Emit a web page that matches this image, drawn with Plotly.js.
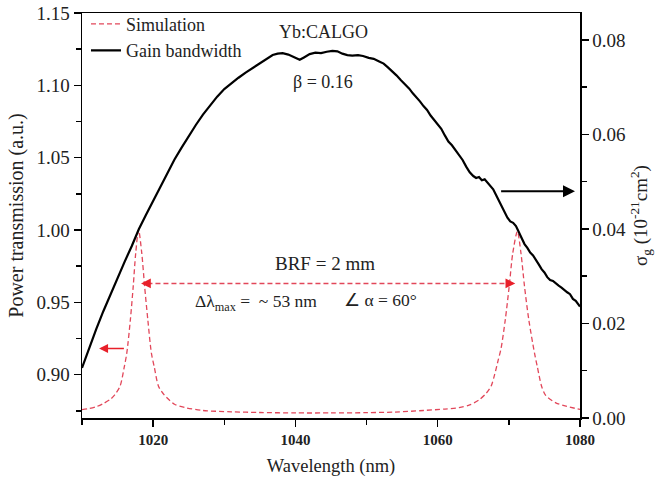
<!DOCTYPE html>
<html><head><meta charset="utf-8">
<script src="https://cdn.plot.ly/plotly-3.0.1.min.js"></script>
<style>html,body{margin:0;padding:0;background:#fff}#chart{width:655px;height:478px}</style>
</head><body><div id="chart"></div>
<script>
// Simulated BRF power transmission (left axis)
const simWavelength = [1010,1011,1012,1013,1014,1014.6,1015.35,1015.95,1016.3,1016.8,1017.2,1017.55,1017.95,1018.4,1018.8,1019.25,1019.75,1020.15,1020.75,1021.55,1023,1024.5,1027,1031,1035,1040,1045,1050,1054,1058,1061,1063,1064.5,1065.8,1066.8,1067.5,1068,1068.5,1068.9,1069.5,1070.05,1070.55,1071.2,1071.7,1072.2,1072.8,1073.6,1074,1074.6,1075.2,1076.6,1077.5,1080];
const simTransmission = [0.8758,0.8765,0.8778,0.8800,0.8830,0.8860,0.8920,0.9055,0.9150,0.9380,0.9610,0.9840,1.0000,0.9840,0.9610,0.9380,0.9150,0.9055,0.8920,0.8860,0.8795,0.8772,0.8752,0.8743,0.8738,0.8735,0.8735,0.8737,0.8741,0.8752,0.8762,0.8772,0.8790,0.8825,0.8870,0.8920,0.9000,0.9100,0.9180,0.9380,0.9610,0.9840,0.9990,0.9840,0.9610,0.9380,0.9150,0.9055,0.8920,0.8855,0.8805,0.8789,0.8759];

// Gain bandwidth cross-section (right axis)
const gainWavelength = [1010,1011,1012,1013,1014,1015,1016,1017,1018,1019,1020,1021,1022,1023,1024,1025,1026,1027,1028,1029,1030,1031,1032,1033,1034,1035,1036,1036.8,1037.5,1038.2,1039,1039.8,1040.6,1041.2,1042,1042.8,1043.6,1044.4,1045.2,1045.9,1046.6,1047.3,1048,1048.8,1049.5,1050.3,1051,1051.7,1052.4,1053,1053.6,1054.2,1054.8,1055.4,1056,1056.5,1057,1057.5,1058,1058.5,1059,1059.5,1060,1060.5,1061,1061.5,1062,1062.5,1063,1063.5,1064,1064.5,1065,1065.4,1065.8,1066.2,1066.6,1067,1067.4,1067.8,1068.2,1068.6,1069,1069.4,1069.8,1070.2,1070.6,1071,1071.4,1071.8,1072.2,1072.6,1073,1073.4,1073.8,1074.2,1074.6,1075,1075.4,1075.8,1076.2,1076.6,1077,1077.4,1077.8,1078.2,1078.6,1079,1079.4,1079.8,1080];
const gainCrossSection = [0.0106,0.0148,0.0188,0.0226,0.0262,0.0297,0.0331,0.0364,0.0400,0.0430,0.0459,0.0490,0.0520,0.0547,0.0572,0.0597,0.0620,0.0642,0.0662,0.0680,0.0696,0.0709,0.0720,0.0731,0.0741,0.0750,0.0760,0.0768,0.0771,0.0772,0.0769,0.0763,0.0758,0.0763,0.0770,0.0773,0.0772,0.0775,0.0777,0.0776,0.0771,0.0768,0.0767,0.0768,0.0766,0.0762,0.0760,0.0755,0.0750,0.0742,0.0734,0.0725,0.0715,0.0706,0.0697,0.0687,0.0679,0.0670,0.0660,0.0652,0.0640,0.0631,0.0620,0.0612,0.0598,0.0585,0.0577,0.0566,0.0555,0.0546,0.0532,0.0520,0.0512,0.0508,0.0510,0.0503,0.0505,0.0498,0.0492,0.0484,0.0472,0.0460,0.0446,0.0436,0.0424,0.0416,0.0413,0.0406,0.0393,0.0378,0.0368,0.0360,0.0350,0.0344,0.0333,0.0325,0.0315,0.0308,0.0298,0.0292,0.0290,0.0284,0.0280,0.0276,0.0270,0.0266,0.0262,0.0252,0.0248,0.0240,0.0236];

const xTickValues = [1020,1040,1060,1080];
const leftTickValues = [0.90,0.95,1.00,1.05,1.10,1.15];
const rightTickValues = [0.00,0.02,0.04,0.06,0.08];
const seriesNames = ['Simulation','Gain bandwidth'];

const FONT = 'Liberation Serif, Times New Roman, serif';
const RED = '#e2475a';
const ARROW_RED = '#e8202a';
const TXT = '#222';

const traces = [
  {x: simWavelength, y: simTransmission, name: seriesNames[0], type:'scatter', mode:'lines',
   line:{color:RED, width:1.3, dash:'5px,3px', shape:'spline', smoothing:0.8}, yaxis:'y'},
  {x: gainWavelength, y: gainCrossSection, name: seriesNames[1], type:'scatter', mode:'lines',
   line:{color:'#000', width:2.2}, yaxis:'y2'}
];

const axisCommon = {showline:true, linecolor:'#000', linewidth:1.5, ticks:'outside', ticklen:7, tickwidth:1.5,
  tickcolor:'#000', showgrid:false, zeroline:false};

const layout = {
  width:655, height:478,
  margin:{l:82, r:75, t:13, b:60, autoexpand:false},
  paper_bgcolor:'#fff', plot_bgcolor:'#fff',
  font:{family:FONT, color:TXT, size:18},
  showlegend:true,
  legend:{x:0.008, y:1.018, xanchor:'left', yanchor:'top', bgcolor:'rgba(0,0,0,0)', font:{family:FONT, size:18, color:TXT}, itemwidth:30, tracegroupgap:0},
  xaxis: Object.assign({}, axisCommon, {range:[1010,1080], tickvals:xTickValues, mirror:true,
    tickfont:{family:FONT, size:15, color:TXT, weight:'bold'},
    minor:{dtick:10, tick0:1000, ticks:'outside', ticklen:5, tickwidth:1.5, tickcolor:'#000'},
    title:{text:'Wavelength (nm)', font:{family:FONT, size:18.5, color:TXT}, standoff:12}}),
  yaxis: Object.assign({}, axisCommon, {range:[0.87,1.15], tickvals:leftTickValues, tickformat:'.2f',
    tickfont:{family:FONT, size:19, color:TXT},
    minor:{dtick:0.025, tick0:0.9, ticks:'outside', ticklen:5, tickwidth:1.5, tickcolor:'#000'},
    title:{text:'Power transmission (a.u.)', font:{family:FONT, size:20, color:TXT}, standoff:7}}),
  yaxis2: Object.assign({}, axisCommon, {range:[0,0.0857], overlaying:'y', side:'right', tickvals:rightTickValues, tickformat:'.2f',
    tickfont:{family:FONT, size:19, color:TXT},
    minor:{dtick:0.01, tick0:0, ticks:'outside', ticklen:5, tickwidth:1.5, tickcolor:'#000'},
    title:{text:'σ<sub>g</sub> (10<sup>-21</sup>cm<sup>2</sup>)', font:{family:FONT, size:19, color:TXT}, standoff:8}}),
  shapes:[
    {type:'line', xref:'x', yref:'y', x0:1019.2, x1:1070.0, y0:0.9630, y1:0.9630, line:{color:RED, width:1.3, dash:'5px,3px'}}
  ],
  annotations:[
    {text:'Yb:CALGO', xref:'x', yref:'y', x:1044.0, y:1.1366, showarrow:false, font:{family:FONT, size:18, color:TXT}},
    {text:'β = 0.16', xref:'x', yref:'y', x:1043.9, y:1.102, showarrow:false, font:{family:FONT, size:18, color:TXT}},
    {text:'BRF = 2 mm', xref:'x', yref:'y', x:1044.1, y:0.977, showarrow:false, font:{family:FONT, size:19, color:TXT}},
    {text:'Δλ<sub>max</sub> =  ~ 53 nm', xref:'x', yref:'y', x:1034.4, y:0.950, showarrow:false, font:{family:FONT, size:17.5, color:TXT}},
    {text:'∠ α = 60°', xref:'x', yref:'y', x:1052.0, y:0.9517, showarrow:false, font:{family:FONT, size:17.5, color:TXT}},
    // double arrow heads of the dashed BRF arrow
    {text:'', xref:'x', yref:'y', axref:'x', ayref:'y', x:1018.3, y:0.9630, ax:1019.6, ay:0.9630, showarrow:true, arrowhead:2, arrowsize:1.3, arrowwidth:1.5, arrowcolor:ARROW_RED},
    {text:'', xref:'x', yref:'y', axref:'x', ayref:'y', x:1070.9, y:0.9630, ax:1069.6, ay:0.9630, showarrow:true, arrowhead:2, arrowsize:1.3, arrowwidth:1.5, arrowcolor:ARROW_RED},
    // red arrow to left axis
    {text:'', xref:'x', yref:'y', axref:'x', ayref:'y', x:1012.4, y:0.918, ax:1016.1, ay:0.918, showarrow:true, arrowhead:2, arrowsize:1.2, arrowwidth:1.5, arrowcolor:ARROW_RED},
    // black arrow to right axis
    {text:'', xref:'x', yref:'y2', axref:'x', ayref:'y2', x:1079.3, y:0.048, ax:1068.7, ay:0.048, showarrow:true, arrowhead:2, arrowsize:1.2, arrowwidth:2, arrowcolor:'#000'}
  ]
};

Plotly.newPlot('chart', traces, layout, {displayModeBar:false, staticPlot:true});
</script>
</body></html>
